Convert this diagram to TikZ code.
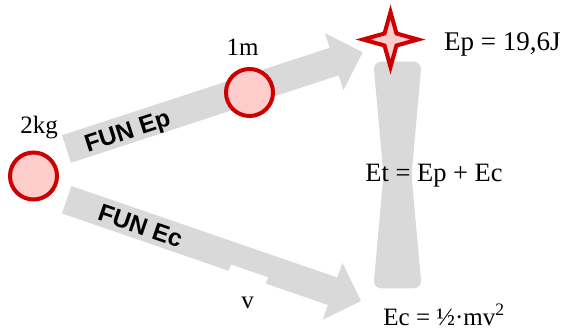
\documentclass[tikz,border=0pt]{standalone}
\usepackage{fontspec}
\setmainfont{Liberation Serif}
\newfontfamily\lsans{Liberation Sans}
\usetikzlibrary{calc}
\definecolor{arrowgray}{HTML}{D9D9D9}
\definecolor{ballred}{HTML}{CC0000}
\definecolor{ballpink}{HTML}{FFCCCC}
\begin{document}
\begin{tikzpicture}[x=1pt,y=-1pt,
  grayshape/.style={fill=arrowgray, draw=none},
  ball/.style={circle, draw=ballred, fill=ballpink, line width=4pt, minimum size=47pt, inner sep=0pt},
  seriflabel/.style={font=\fontsize{25}{30}\selectfont, inner sep=0pt},
  funlabel/.style={font=\lsans\bfseries\fontsize{24.5}{28}\selectfont, inner sep=0pt},
  starstyle/.style={draw=ballred, fill=ballpink, line width=4pt, miter limit=10}]
\useasboundingbox (0,0) rectangle (562,333);
% ---- upper block arrow ----
\coordinate (us) at (66.5,149);
\coordinate (ut) at (362.7,52.3);
\coordinate (ub) at ($(ut)!30pt!(us)$);
\fill[grayshape] ($(us)!14.5pt!90:(ut)$) -- ($(ub)!14.5pt!-90:(us)$) -- ($(ub)!30pt!-90:(us)$) -- (ut)
  -- ($(ub)!30pt!90:(us)$) -- ($(ub)!14.5pt!90:(us)$) -- ($(us)!14.5pt!-90:(ut)$) -- cycle;
% ---- lower block arrow ----
\coordinate (ls) at (66.7,199.7);
\coordinate (lt) at (361,301);
\coordinate (lb) at ($(lt)!30pt!(ls)$);
\fill[grayshape] ($(ls)!14.5pt!90:(lt)$) -- ($(lb)!14.5pt!-90:(ls)$) -- ($(lb)!30pt!-90:(ls)$) -- (lt)
  -- ($(lb)!30pt!90:(ls)$) -- ($(lb)!14.5pt!90:(ls)$) -- ($(ls)!14.5pt!-90:(lt)$) -- cycle;
% notch (white label background)
\node[fill=white, rotate=-19, minimum width=39pt, minimum height=15pt, inner sep=0pt] (notch) at (247,278) {};
% ---- hourglass ----
\fill[grayshape, rounded corners=8pt] (373.3,61.7) -- (421.7,61.7) -- (411.5,175) -- (421.7,288.3)
  -- (373.3,288.3) -- (383.5,175) -- cycle;
% ---- star ----
\coordinate (sc) at (390.5,39.5);
\draw[starstyle] ($(sc)+(27.5,0)$) -- ($(sc)+(6,-6)$) -- ($(sc)+(0,-27.5)$) -- ($(sc)+(-6,-6)$)
  -- ($(sc)+(-27.5,0)$) -- ($(sc)+(-6,6)$) -- ($(sc)+(0,27.5)$) -- ($(sc)+(6,6)$) -- cycle;
% ---- balls ----
\node[ball] (b1) at (33.5,176) {};
\node[ball] (b2) at (249.5,92.5) {};
% ---- labels ----
\node[funlabel, rotate=18] (fep) at (128,133) {FUN Ep};
\node[funlabel, rotate=-19] (fec) at (140.5,226) {FUN Ec};
\node[seriflabel, anchor=base] (kg) at (39,133.5) {2kg};
\node[seriflabel, anchor=base] (m1) at (242.7,55) {1m};
\node[seriflabel, font=\fontsize{27}{32}\selectfont, anchor=base west] (ep) at (444,50.5) {Ep = 19,6J};
\node[seriflabel, font=\fontsize{26.5}{32}\selectfont, anchor=base] (et) at (434,181.7) {Et = Ep + Ec};
\node[seriflabel, anchor=base] (ec) at (444,325) {Ec = ½·mv\textsuperscript{2}};
\node[seriflabel, anchor=base] (v) at (247.5,308.3) {v};
\end{tikzpicture}
\end{document}
